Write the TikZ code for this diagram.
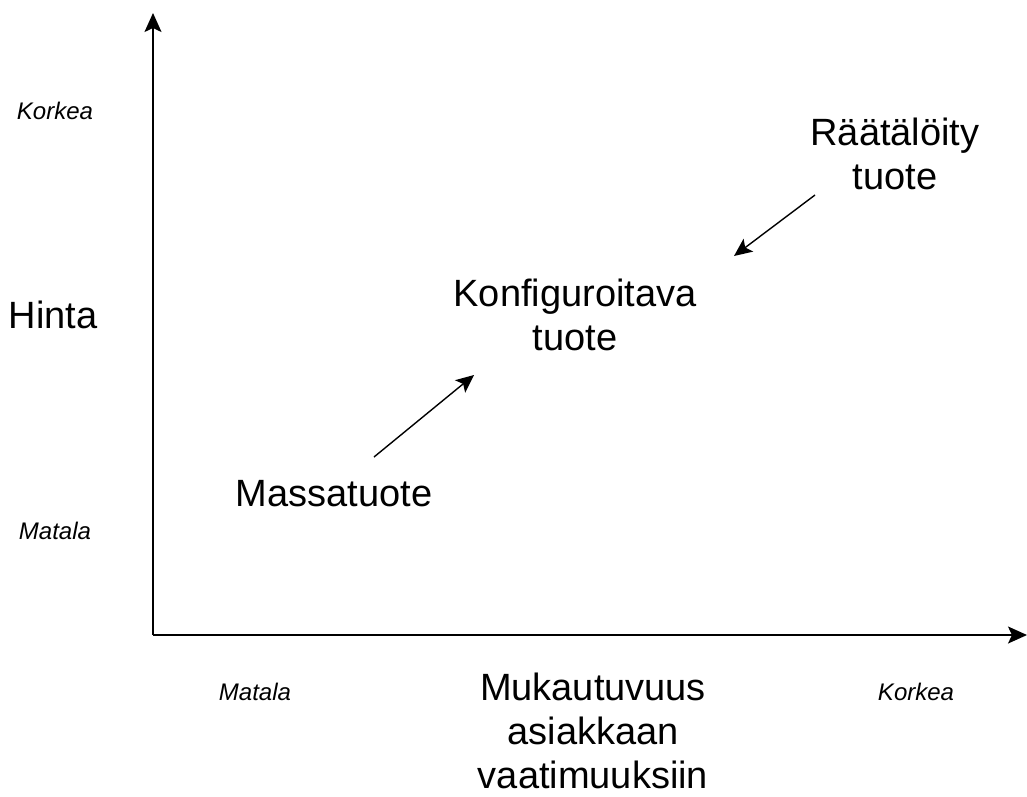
\documentclass[tikz,border=0pt]{standalone}
\usepackage{fontspec}
\setmainfont{Liberation Sans}
\usetikzlibrary{arrows.meta}
\begin{document}
\begin{tikzpicture}[x=1pt,y=-1pt,
  bigtext/.style={inner sep=0pt,align=center,font=\fontsize{38}{44}\selectfont},
  levellabel/.style={inner sep=0pt,font=\fontsize{24}{28}\selectfont\itshape},
  axisline/.style={line width=1.8pt,-{Stealth[length=19pt,width=17pt,inset=4pt]}},
  shiftarrow/.style={line width=1.4pt,-{Stealth[length=18pt,width=16pt,inset=4pt]}}]
  \useasboundingbox (0,0) rectangle (1027,796);

  % axes
  \coordinate (origin) at (153,635);
  \coordinate (ytop) at (153,13);
  \coordinate (xend) at (1027,635);
  \draw[axisline] (origin) -- (ytop);
  \draw[axisline] (origin) -- (xend);

  % axis captions and level labels
  \node[bigtext] (yname) at (53,315) {Hinta};
  \node[levellabel] (yhigh) at (55,111) {Korkea};
  \node[levellabel] (ylow) at (55,531) {Matala};
  \node[bigtext] (xname) at (593,731) {Mukautuvuus\\asiakkaan\\vaatimuuksiin};
  \node[levellabel] (xlow) at (255,692) {Matala};
  \node[levellabel] (xhigh) at (916,692) {Korkea};

  % product types
  \node[bigtext] (mass) at (334,494) {Massatuote};
  \node[bigtext] (config) at (575,315) {Konfiguroitava\\tuote};
  \node[bigtext] (custom) at (895,154) {Räätälöity\\tuote};

  % shifts towards the configurable product
  \coordinate (massout) at (374,457);
  \coordinate (configin1) at (474,375);
  \coordinate (customout) at (815,195);
  \coordinate (configin2) at (734,256);
  \draw[shiftarrow] (massout) -- (configin1);
  \draw[shiftarrow] (customout) -- (configin2);
\end{tikzpicture}
\end{document}
